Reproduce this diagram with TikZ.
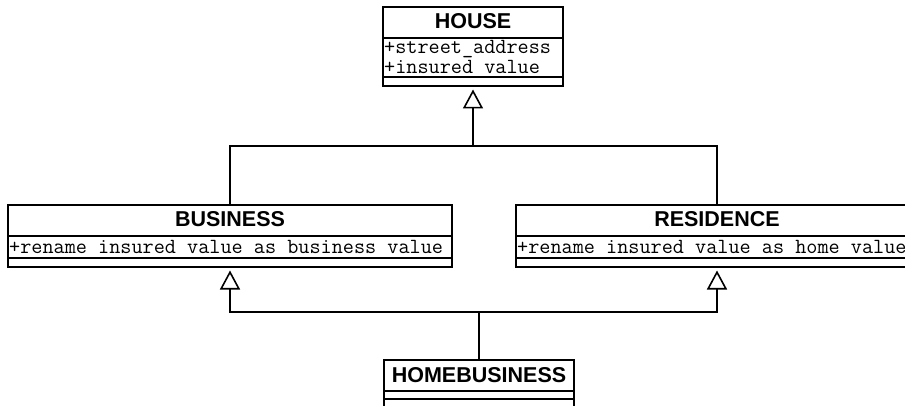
\documentclass[tikz,border=0pt]{standalone}
\usepackage{fontspec}
\setmainfont{Liberation Sans}
\usetikzlibrary{arrows.meta}

\tikzset{
  classbox/.style={draw, line width=2pt, rectangle, inner sep=0pt, fill=white},
  sep/.style={line width=2pt},
  classname/.style={font=\fontsize{21.5}{22}\selectfont\bfseries, anchor=base, inner sep=0pt},
  member/.style={font=\ttfamily\fontsize{21.6}{19.5}\selectfont, anchor=base west,
    inner sep=0pt, align=left},
  link/.style={line width=2pt},
  inherit/.style={line width=2pt, shorten >=2.5pt,
    -{Triangle[open, length=19pt, width=20pt, line width=1.6pt]}}
}

\begin{document}
\begin{tikzpicture}[x=1pt, y=-1pt]
  \useasboundingbox (0,0) rectangle (905,406);
  \fill[white] (0,0) rectangle (905,406);
  \begin{scope}
  \clip (0,0) rectangle (905,406);

  % HOUSE (the base anchor of the two-line attribute block is its last baseline)
  \node[classbox, minimum width=180pt, minimum height=79pt] (house) at (473,46.5) {};
  \draw[sep] (house.west |- 0,38) -- (house.east |- 0,38);
  \draw[sep] (house.west |- 0,77) -- (house.east |- 0,77);
  \node[classname] (housename) at (473,28.5) {HOUSE};
  \node[member] (houseattrs) at (384,73.5) {+street\_address\\+insured value};

  % BUSINESS
  \node[classbox, minimum width=444pt, minimum height=62pt] (business) at (230,236) {};
  \draw[sep] (business.west |- 0,236) -- (business.east |- 0,236);
  \draw[sep] (business.west |- 0,258) -- (business.east |- 0,258);
  \node[classname] (businessname) at (230,227) {BUSINESS};
  \node[member] (businessattr) at (9,254) {+rename insured value as business value};

  % RESIDENCE
  \node[classbox, minimum width=402pt, minimum height=62pt] (residence) at (717,236) {};
  \draw[sep] (residence.west |- 0,236) -- (residence.east |- 0,236);
  \draw[sep] (residence.west |- 0,258) -- (residence.east |- 0,258);
  \node[classname] (residencename) at (717,227) {RESIDENCE};
  \node[member] (residenceattr) at (517,254) {+rename insured value as home value};

  % HOMEBUSINESS
  \node[classbox, minimum width=190pt, minimum height=70pt] (homebusiness) at (479,395) {};
  \draw[sep] (homebusiness.west |- 0,391) -- (homebusiness.east |- 0,391);
  \draw[sep] (homebusiness.west |- 0,399) -- (homebusiness.east |- 0,399);
  \node[classname] (homebusinessname) at (479,382) {HOMEBUSINESS};

  % generalisation connectors
  \coordinate (jtop) at (473,146);
  \coordinate (jbot) at (479,312);
  \draw[link] (business.north) |- (jtop) -| (residence.north);
  \draw[inherit] (jtop) -- (house.south);
  \draw[link] (homebusiness.north) -- (jbot);
  \draw[inherit] (jbot) -| (business.south);
  \draw[inherit] (jbot) -| (residence.south);
  \end{scope}
\end{tikzpicture}
\end{document}
